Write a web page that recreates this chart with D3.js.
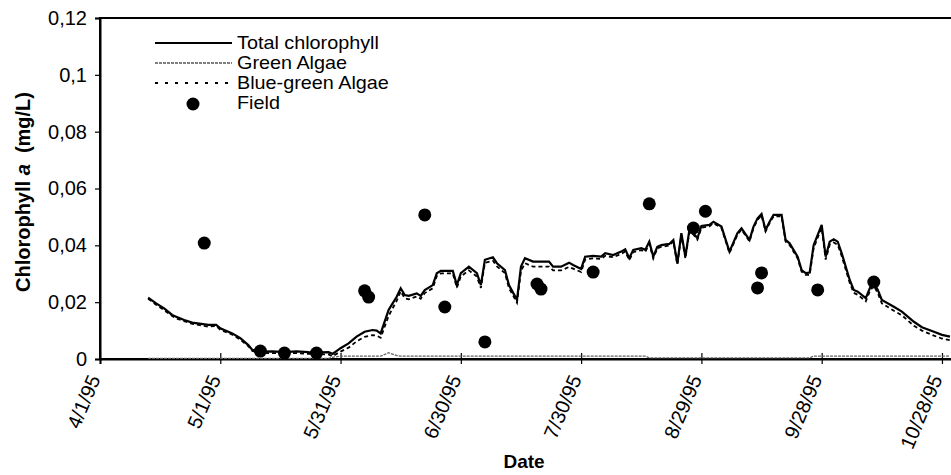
<!DOCTYPE html>
<html>
<head>
<meta charset="utf-8">
<script src="https://cdn.jsdelivr.net/npm/d3@7"></script>
<style>
  html, body { margin: 0; padding: 0; background: #fff; }
  svg { display: block; font-family: "Liberation Sans", Arial, sans-serif; }
</style>
</head>
<body>
<svg id="chart" width="951" height="475"></svg>
<script>
// Simulated series share one set of dates (1995)
const dates = [
  "4/13/95","4/15/95","4/17/95","4/19/95","4/20/95","4/22/95","4/24/95","4/28/95","4/30/95","5/1/95",
  "5/4/95","5/6/95","5/8/95","5/9/95","5/11/95","5/14/95","5/17/95","5/20/95","5/23/95","5/26/95",
  "5/28/95","5/29/95","5/31/95","6/2/95","6/4/95","6/6/95","6/8/95","6/9/95","6/10/95","6/12/95",
  "6/14/95","6/15/95","6/16/95","6/17/95","6/19/95","6/20/95","6/21/95","6/23/95","6/24/95","6/25/95",
  "6/28/95","6/29/95","6/30/95","7/2/95","7/4/95","7/5/95","7/6/95","7/8/95","7/9/95","7/11/95",
  "7/12/95","7/14/95","7/15/95","7/16/95","7/18/95","7/22/95","7/23/95","7/25/95","7/27/95","7/28/95",
  "7/30/95","7/31/95","8/2/95","8/4/95","8/5/95","8/7/95","8/9/95","8/10/95","8/11/95","8/12/95",
  "8/14/95","8/15/95","8/16/95","8/17/95","8/18/95","8/19/95","8/21/95","8/22/95","8/23/95","8/24/95",
  "8/25/95","8/26/95","8/27/95","8/28/95","8/29/95","8/31/95","9/1/95","9/3/95","9/5/95","9/7/95",
  "9/8/95","9/10/95","9/11/95","9/12/95","9/13/95","9/14/95","9/15/95","9/16/95","9/18/95","9/19/95",
  "9/20/95","9/22/95","9/23/95","9/24/95","9/25/95","9/26/95","9/28/95","9/29/95","9/30/95","10/1/95",
  "10/2/95","10/3/95","10/5/95","10/6/95","10/7/95","10/9/95","10/10/95","10/11/95","10/12/95","10/13/95",
  "10/16/95","10/18/95","10/21/95","10/23/95","10/26/95","10/28/95","10/30/95"
];

const totalChl = [
  0.0216,0.0196,0.0178,0.0155,0.0149,0.0137,0.0128,0.0120,0.0120,0.0108,
  0.0090,0.0073,0.0049,0.0032,0.0026,0.0027,0.0024,0.0027,0.0024,0.0023,
  0.0024,0.0018,0.0038,0.0055,0.0079,0.0096,0.0102,0.0100,0.0090,0.0173,
  0.0219,0.0249,0.0225,0.0222,0.0231,0.0222,0.0243,0.0260,0.0302,0.0310,
  0.0310,0.0260,0.0302,0.0325,0.0302,0.0260,0.0349,0.0358,0.0337,0.0313,
  0.0260,0.0208,0.0325,0.0355,0.0343,0.0343,0.0325,0.0325,0.0339,0.0331,
  0.0317,0.0360,0.0363,0.0360,0.0372,0.0366,0.0378,0.0386,0.0355,0.0384,
  0.0390,0.0384,0.0413,0.0360,0.0395,0.0401,0.0405,0.0419,0.0337,0.0443,
  0.0360,0.0454,0.0443,0.0425,0.0468,0.0472,0.0483,0.0466,0.0378,0.0443,
  0.0460,0.0419,0.0466,0.0495,0.0510,0.0454,0.0483,0.0507,0.0507,0.0419,
  0.0407,0.0360,0.0313,0.0302,0.0304,0.0401,0.0472,0.0360,0.0413,0.0421,
  0.0413,0.0372,0.0278,0.0243,0.0237,0.0214,0.0249,0.0269,0.0243,0.0208,
  0.0184,0.0167,0.0131,0.0112,0.0096,0.0085,0.0079
];

const greenAlgae = [
  0.0002,0.0002,0.0002,0.0002,0.0002,0.0002,0.0002,0.0002,0.0002,0.0002,
  0.0002,0.0002,0.0002,0.0002,0.0002,0.0002,0.0002,0.0002,0.0002,0.0002,
  0.0002,0.0006,0.0010,0.0010,0.0010,0.0010,0.0010,0.0010,0.0010,0.0022,
  0.0012,0.0010,0.0010,0.0010,0.0010,0.0010,0.0010,0.0010,0.0010,0.0010,
  0.0010,0.0010,0.0010,0.0010,0.0010,0.0010,0.0010,0.0010,0.0010,0.0010,
  0.0010,0.0010,0.0010,0.0010,0.0010,0.0010,0.0010,0.0010,0.0010,0.0010,
  0.0010,0.0010,0.0010,0.0010,0.0010,0.0010,0.0010,0.0010,0.0010,0.0010,
  0.0010,0.0010,0.0004,0.0004,0.0004,0.0004,0.0004,0.0004,0.0004,0.0004,
  0.0004,0.0004,0.0004,0.0004,0.0004,0.0004,0.0004,0.0004,0.0004,0.0004,
  0.0004,0.0004,0.0004,0.0004,0.0004,0.0004,0.0004,0.0004,0.0004,0.0004,
  0.0004,0.0004,0.0004,0.0004,0.0004,0.0010,0.0010,0.0010,0.0010,0.0010,
  0.0010,0.0010,0.0010,0.0010,0.0010,0.0010,0.0010,0.0010,0.0010,0.0010,
  0.0010,0.0010,0.0010,0.0010,0.0010,0.0010,0.0010
];

const blueGreen = [
  0.0212,0.0191,0.0172,0.0151,0.0143,0.0133,0.0124,0.0114,0.0116,0.0103,
  0.0086,0.0068,0.0045,0.0028,0.0021,0.0021,0.0019,0.0021,0.0018,0.0017,
  0.0016,0.0010,0.0026,0.0040,0.0062,0.0078,0.0084,0.0082,0.0075,0.0152,
  0.0205,0.0238,0.0214,0.0210,0.0220,0.0212,0.0232,0.0249,0.0292,0.0301,
  0.0301,0.0251,0.0290,0.0312,0.0290,0.0250,0.0338,0.0346,0.0326,0.0302,
  0.0250,0.0198,0.0310,0.0337,0.0325,0.0325,0.0312,0.0312,0.0324,0.0318,
  0.0306,0.0350,0.0354,0.0352,0.0363,0.0358,0.0370,0.0378,0.0348,0.0376,
  0.0383,0.0377,0.0405,0.0354,0.0389,0.0395,0.0399,0.0414,0.0332,0.0437,
  0.0354,0.0448,0.0438,0.0420,0.0462,0.0467,0.0478,0.0461,0.0373,0.0438,
  0.0455,0.0414,0.0461,0.0490,0.0505,0.0449,0.0478,0.0502,0.0502,0.0413,
  0.0401,0.0354,0.0307,0.0296,0.0296,0.0391,0.0462,0.0350,0.0402,0.0410,
  0.0402,0.0362,0.0268,0.0233,0.0226,0.0203,0.0238,0.0258,0.0232,0.0196,
  0.0170,0.0154,0.0117,0.0100,0.0082,0.0072,0.0066
];

// Field measurements
const fieldDates = [
  "4/27/95","5/11/95","5/17/95","5/25/95","6/6/95","6/7/95","6/21/95","6/26/95","7/6/95","7/19/95",
  "7/20/95","8/2/95","8/16/95","8/27/95","8/30/95","9/12/95","9/13/95","9/27/95","10/11/95"
];
const fieldValues = [
  0.0408,0.0028,0.0021,0.0021,0.0240,0.0218,0.0507,0.0183,0.0060,0.0264,
  0.0246,0.0306,0.0546,0.0461,0.0520,0.0250,0.0303,0.0243,0.0271
];

const xTickLabels = ["4/1/95","5/1/95","5/31/95","6/30/95","7/30/95","8/29/95","9/28/95","10/28/95"];
const yTickValues = [0, 0.02, 0.04, 0.06, 0.08, 0.1, 0.12];

const seriesNames = ["Total chlorophyll", "Green Algae", "Blue-green Algae", "Field"];

(function draw() {
  const parse = d3.utcParse("%m/%d/%y");
  const svg = d3.select("#chart");

  const plotL = 100, plotR = 958, plotT = 18, plotB = 359;

  const x = d3.scaleUtc()
    .domain([parse("4/1/95"), parse("11/1/95")])
    .range([plotL, plotR]);
  const y = d3.scaleLinear().domain([0, 0.12]).range([plotB, plotT]);

  const locale = d3.formatLocale({ decimal: ",", thousands: ".", grouping: [3], currency: ["", ""] });
  const yFmt = locale.format("~g");

  svg.append("rect").attr("width", 951).attr("height", 475).attr("fill", "#fff");

  // Plot frame
  svg.append("rect")
    .attr("x", plotL).attr("y", plotT)
    .attr("width", plotR - plotL).attr("height", plotB - plotT)
    .attr("fill", "none").attr("stroke", "#000").attr("stroke-width", 2);

  // Y axis
  const yAxis = svg.append("g")
    .attr("transform", `translate(${plotL},0)`)
    .call(d3.axisLeft(y).tickValues(yTickValues).tickFormat(yFmt).tickSize(5).tickPadding(8));
  yAxis.select(".domain").attr("stroke-width", 2);
  yAxis.selectAll(".tick line").attr("stroke-width", 1.2);
  yAxis.selectAll(".tick text")
    .attr("font-size", 20).attr("fill", "#000")
    .attr("font-family", "'Liberation Sans', Arial, sans-serif");

  // X axis, ticks cross the baseline
  const xTicks = xTickLabels.map(parse);
  const xAxis = svg.append("g")
    .attr("transform", `translate(0,${plotB})`)
    .call(d3.axisBottom(x).tickValues(xTicks).tickFormat((d, i) => xTickLabels[i]).tickSize(5));
  xAxis.select(".domain").attr("stroke-width", 2);
  xAxis.selectAll(".tick line").attr("y1", -6).attr("y2", 5).attr("stroke-width", 1.2);
  xAxis.selectAll(".tick text")
    .attr("font-size", 20).attr("fill", "#000")
    .attr("font-family", "'Liberation Sans', Arial, sans-serif")
    .attr("text-anchor", "end")
    .attr("dy", "0.35em")
    .attr("transform", "translate(-6,17) rotate(-67)")
    .attr("y", 0).attr("x", 0);

  // Axis titles
  svg.append("text")
    .attr("x", 524).attr("y", 468)
    .attr("text-anchor", "middle")
    .attr("font-size", 19).attr("font-weight", "bold")
    .text("Date");

  const yTitle = svg.append("text")
    .attr("transform", "translate(30,192) rotate(-90)")
    .attr("text-anchor", "middle")
    .attr("font-size", 20).attr("font-weight", "bold")
    .style("white-space", "pre");
  yTitle.append("tspan").text("Chlorophyll ");
  yTitle.append("tspan").attr("font-style", "italic").text("a");
  yTitle.append("tspan").text("  (mg/L)");

  // Lines
  const pts = vals => vals.map((v, i) => [parse(dates[i]), v]);
  const line = d3.line().x(d => x(d[0])).y(d => y(d[1]));

  svg.append("path").datum(pts(greenAlgae))
    .attr("d", line).attr("fill", "none")
    .attr("stroke", "#666").attr("stroke-width", 1.3).attr("stroke-dasharray", "3,1");

  svg.append("path").datum(pts(blueGreen))
    .attr("d", line).attr("fill", "none")
    .attr("stroke", "#000").attr("stroke-width", 1.8).attr("stroke-dasharray", "4,3");

  svg.append("path").datum(pts(totalChl))
    .attr("d", line).attr("fill", "none")
    .attr("stroke", "#000").attr("stroke-width", 2.2);

  // Field points
  svg.append("g").selectAll("circle")
    .data(fieldValues)
    .join("circle")
    .attr("cx", (d, i) => x(parse(fieldDates[i])))
    .attr("cy", d => y(d))
    .attr("r", 6.5)
    .attr("fill", "#000");

  // Legend
  const legend = svg.append("g");
  const rows = [43, 63, 83, 103];
  const styles = [
    { stroke: "#000", width: 2, dash: null },
    { stroke: "#555", width: 1.6, dash: "3,1" },
    { stroke: "#000", width: 2, dash: "3,7" }
  ];
  styles.forEach((s, i) => {
    legend.append("line")
      .attr("x1", 155).attr("x2", 232)
      .attr("y1", rows[i]).attr("y2", rows[i])
      .attr("stroke", s.stroke).attr("stroke-width", s.width)
      .attr("stroke-dasharray", s.dash);
  });
  legend.append("circle").attr("cx", 193).attr("cy", rows[3] + 1).attr("r", 6.5).attr("fill", "#000");
  seriesNames.forEach((name, i) => {
    legend.append("text")
      .attr("transform", `translate(237,${rows[i] + 6}) scale(1.1,1)`)
      .attr("font-size", 18)
      .text(name);
  });
})();
</script>
</body>
</html>
